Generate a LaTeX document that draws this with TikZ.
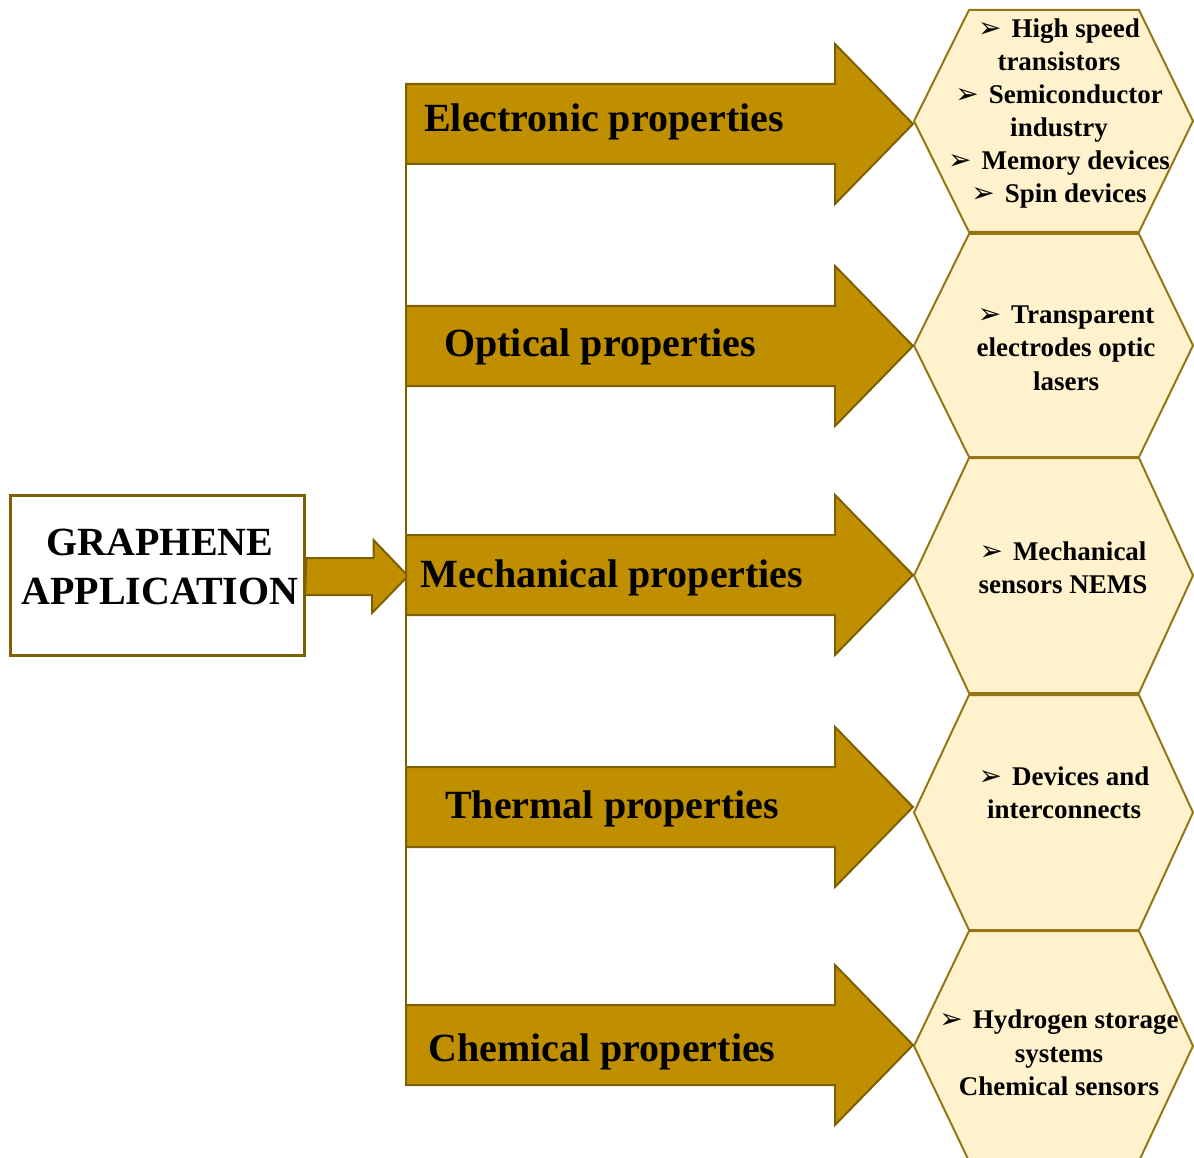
\documentclass[tikz,border=0pt]{standalone}
\usepackage{fontspec}
\setmainfont{Liberation Serif}
\newfontfamily\symfont{DejaVu Sans}
\usepackage{xcolor}
\usepackage{tikz}
\usetikzlibrary{calc}
\definecolor{arrowgold}{RGB}{191,143,0}
\definecolor{edgebrown}{RGB}{127,96,0}
\definecolor{hexcream}{RGB}{255,242,204}
\definecolor{hexedge}{RGB}{150,118,20}

\newcommand{\hexbullet}{{\symfont\fontsize{28}{28}\selectfont ➢}\hspace{10pt}}
% #1 = centre of the shaft
\newcommand{\drawproparrow}[1]{%
  \filldraw[proparrow] (406,#1-40) -- (835,#1-40) -- (835,#1-80) -- (913,#1)
    -- (835,#1+80) -- (835,#1+40) -- (406,#1+40) -- cycle;}
% #1 = top, #2 = bottom
\newcommand{\drawhex}[2]{%
  \filldraw[hexcell] (914,{(#1+#2)/2}) -- (969,#1) -- (1139,#1) -- (1193,{(#1+#2)/2})
    -- (1139,#2) -- (969,#2) -- cycle;}

\begin{document}
\begin{tikzpicture}[
    x=1pt, y=-1pt,
    proparrow/.style={fill=arrowgold, draw=edgebrown, line width=2pt},
    hexcell/.style={fill=hexcream, draw=hexedge, line width=2pt},
    proplabel/.style={font=\bfseries\fontsize{40}{40}\selectfont, inner sep=0pt, anchor=base},
    uselist/.style={font=\bfseries\fontsize{27}{33.5}\selectfont, align=center, inner sep=0pt},
    appbox/.style={draw=edgebrown, line width=3pt, fill=white, minimum width=294pt, minimum height=160pt, inner sep=0pt},
    apptext/.style={font=\bfseries\fontsize{40}{49}\selectfont, align=center, inner sep=0pt},
    trunk/.style={draw=edgebrown, line width=2pt}
  ]
    \useasboundingbox (0,0) rectangle (1194,1158);

    % application cells
    \drawhex{10}{232}
    \drawhex{234}{457}
    \drawhex{458}{693}
    \drawhex{695}{930}
    \drawhex{931}{1161}

    \node[uselist, font=\bfseries\fontsize{27}{33}\selectfont] (elecuse) at (1059,114) {\hexbullet High speed\\transistors\\
      \hexbullet Semiconductor\\industry\\\hexbullet Memory devices\\\hexbullet Spin devices};
    \node[uselist] (optuse) at (1066,348) {\hexbullet Transparent\\electrodes optic\\lasers};
    \node[uselist] (mechuse) at (1063,568) {\hexbullet Mechanical\\sensors NEMS};
    \node[uselist] (thermuse) at (1064,793) {\hexbullet Devices and\\interconnects};
    \node[uselist] (chemuse) at (1059,1053) {\hexbullet Hydrogen storage\\systems\\Chemical sensors};

    % source box
    \node[appbox] (app) at (157,575) {};
    \node[apptext] (apptitle) at ($(app.center)+(3,-8)$) {GRAPHENE\\APPLICATION};
    \filldraw[proparrow] (app.east) ++(1,-17) -- ++(67,0) -- ++(0,-18) -- (408,576)
      -- (372,613) -- (372,595) -- ++(-67,0) -- cycle;

    % trunk and property arrows
    \coordinate (trunktop) at (406,84);
    \coordinate (trunkbot) at (406,1086);
    \draw[trunk] (trunktop) -- (trunkbot);

    \drawproparrow{124}
    \drawproparrow{346}
    \drawproparrow{575}
    \drawproparrow{807}
    \drawproparrow{1045}

    \node[proplabel] (elec) at (604,132) {Electronic properties};
    \node[proplabel] (opt) at (600,356) {Optical properties};
    \node[proplabel] (mech) at (612,587) {Mechanical properties};
    \node[proplabel] (therm) at (612,818) {Thermal properties};
    \node[proplabel] (chem) at (602,1061) {Chemical properties};
  \end{tikzpicture}
\end{document}
